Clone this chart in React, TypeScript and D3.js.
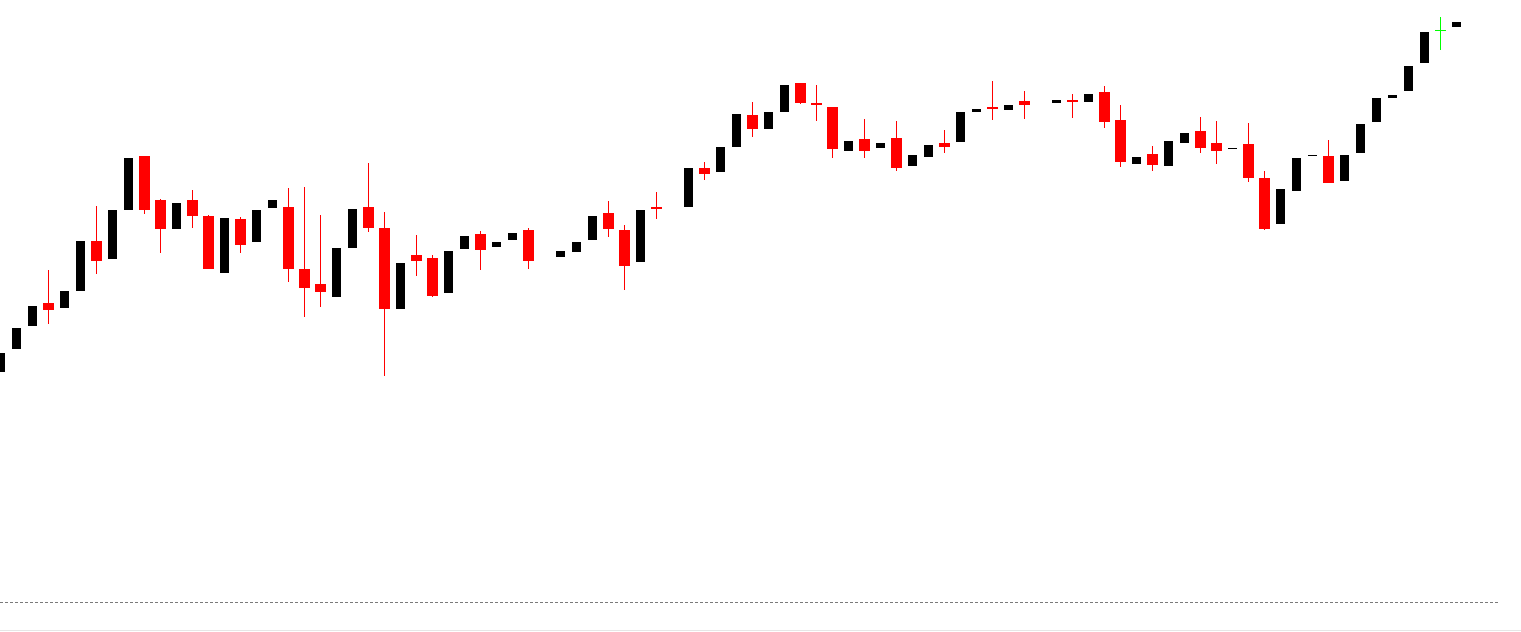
import React from "react";
import * as d3 from "d3";

const WIDTH = 1521;
const HEIGHT = 632;

// Candle data (slot index = bar position; null = no bar in that slot)
const opens: (number | null)[] = [
  26.8, 29.1, 31.4, 33.7, 33.2, 34.9, 39.9, 38.1, 43.0, 48.4,
  44.0, 41.1, 44.0, 42.4, 36.7, 42.1, 39.8, 43.2, 43.3, 37.1,
  35.6, 34.3, 39.2, 43.3, 41.2, 33.1, 38.5, 38.2, 34.7, 39.1,
  40.6, 39.3, 40.0, 41.0, null, 38.3, 38.8, 40.0, 42.7, 41.0,
  37.8, 43.3, null, 43.3, 47.2, 46.8, 49.3, 52.5, 51.1, 52.8,
  55.7, 53.7, 53.3, 48.9, 50.1, 49.2, 50.2, 47.4, 48.3, 49.7,
  49.8, 52.8, 53.3, 53.0, 53.9, null, 53.7, 54.0, 53.8, 54.8,
  52.0, 47.6, 48.6, 47.4, 49.7, 50.9, 49.7, 49.1, 49.6, 46.2,
  41.6, 44.9, 48.4, 48.4, 45.9, 48.7, 51.8, 54.2, 54.9, 57.7,
  61.05, 61.3,
];

const closes: (number | null)[] = [
  28.7, 31.2, 33.4, 33.0, 34.9, 39.9, 37.9, 43.0, 48.2, 43.0,
  41.1, 43.7, 42.4, 37.1, 42.2, 39.5, 43.0, 44.0, 37.1, 35.2,
  34.8, 39.2, 43.1, 41.2, 33.1, 37.7, 37.9, 34.4, 38.9, 40.4,
  39.0, 39.8, 40.7, 37.9, null, 38.9, 39.8, 42.4, 41.1, 37.4,
  43.0, 43.1, null, 47.2, 46.6, 49.3, 52.6, 51.1, 52.8, 55.5,
  53.7, 53.5, 49.1, 49.9, 48.9, 49.7, 47.2, 48.5, 49.5, 49.3,
  52.8, 53.1, 53.1, 53.5, 53.5, null, 54.0, 53.8, 54.6, 51.8,
  47.8, 48.3, 47.5, 49.9, 50.7, 49.2, 48.9, 49.2, 46.2, 41.1,
  45.1, 48.2, 48.5, 45.7, 48.5, 51.6, 54.2, 54.5, 57.4, 60.8,
  61.05, 61.8,
];

const highs: (number | null)[] = [
  28.7, 31.2, 33.4, 37.0, 34.9, 39.9, 43.4, 43.0, 48.2, 48.4,
  44.1, 43.7, 45.0, 42.5, 42.2, 42.3, 43.0, 44.0, 45.2, 45.3,
  42.5, 39.2, 43.1, 47.7, 42.8, 37.7, 40.5, 38.5, 38.9, 40.4,
  40.9, 39.8, 40.7, 41.2, null, 38.9, 39.8, 42.4, 43.9, 41.5,
  43.0, 44.8, null, 47.2, 47.8, 49.3, 52.6, 53.8, 52.8, 55.5,
  55.7, 55.5, 53.3, 49.9, 52.1, 49.7, 51.9, 48.5, 49.5, 51.0,
  52.8, 53.1, 55.9, 53.5, 54.9, null, 54.0, 54.6, 54.6, 55.4,
  53.5, 48.3, 49.4, 49.9, 50.7, 52.3, 51.9, 49.2, 51.7, 46.9,
  45.1, 48.2, 48.5, 50.0, 48.5, 51.6, 54.2, 54.5, 57.4, 60.8,
  62.3, 61.8,
];

const lows: (number | null)[] = [
  26.8, 29.1, 31.4, 31.6, 33.2, 34.9, 36.6, 38.1, 43.0, 42.6,
  38.7, 41.1, 41.2, 37.1, 36.7, 38.7, 39.8, 43.2, 35.8, 32.3,
  33.3, 34.3, 39.2, 40.8, 26.4, 33.1, 36.4, 34.3, 34.7, 39.1,
  37.0, 39.3, 40.0, 37.1, null, 38.3, 38.8, 40.0, 40.3, 35.0,
  37.8, 42.1, null, 43.3, 46.0, 46.8, 49.3, 50.3, 51.1, 52.8,
  53.6, 51.9, 48.2, 48.9, 48.2, 49.2, 46.9, 47.4, 48.3, 48.7,
  49.8, 52.8, 52.0, 53.0, 52.1, null, 53.7, 52.2, 53.8, 51.2,
  47.3, 47.6, 46.9, 47.4, 49.7, 48.7, 47.6, 49.1, 45.8, 41.0,
  41.6, 44.9, 48.4, 45.7, 45.9, 48.7, 51.8, 54.2, 54.9, 57.7,
  59.0, 61.3,
];

const referenceLevel = 3.8;

const UP_COLOR = "#000000";
const DOWN_COLOR = "#ff0000";
const FLAT_COLOR = "#00ff00";

export default function App() {
  const x = d3.scaleLinear().domain([0, 1]).range([0.5, 16.5]);
  const y = d3.scaleLinear().domain([0, 64]).range([640, 0]);

  const candles = opens.map((o, i) => ({
    i,
    o,
    c: closes[i],
    h: highs[i],
    l: lows[i],
  }));

  const refY = Math.round(y(referenceLevel)) + 0.5;

  return (
    <svg
      width={WIDTH}
      height={HEIGHT}
      style={{ position: "absolute", left: 0, top: 0, display: "block", background: "#ffffff" }}
    >
      <rect x={0} y={0} width={WIDTH} height={HEIGHT} fill="#ffffff" />
      {candles.map((d) => {
        if (d.o == null || d.c == null || d.h == null || d.l == null) return null;
        const cx = x(d.i);
        const color = d.c > d.o ? UP_COLOR : d.c < d.o ? DOWN_COLOR : FLAT_COLOR;
        const half = d.c > d.o ? 4.5 : 5.5;
        const yTop = Math.round(y(Math.max(d.o, d.c)));
        const yBot = Math.round(y(Math.min(d.o, d.c)));
        const yHigh = Math.round(y(d.h));
        const yLow = Math.round(y(d.l));
        const flat = d.c === d.o;
        return (
          <g key={d.i}>
            <line x1={cx} x2={cx} y1={yHigh} y2={yLow} stroke={color} strokeWidth={1} shapeRendering="crispEdges" />
            <rect
              x={cx - half}
              y={flat ? yTop - 0.5 : yTop}
              width={half * 2}
              height={flat ? 1 : Math.max(1, yBot - yTop)}
              fill={color}
              shapeRendering="crispEdges"
            />
          </g>
        );
      })}
      <line
        x1={0}
        x2={1498}
        y1={refY}
        y2={refY}
        stroke="#7a7a7a"
        strokeWidth={1}
        strokeDasharray="3,2"
        shapeRendering="crispEdges"
      />
      <line x1={0} x2={WIDTH} y1={630.5} y2={630.5} stroke="#e6e6e6" strokeWidth={1} shapeRendering="crispEdges" />
    </svg>
  );
}
